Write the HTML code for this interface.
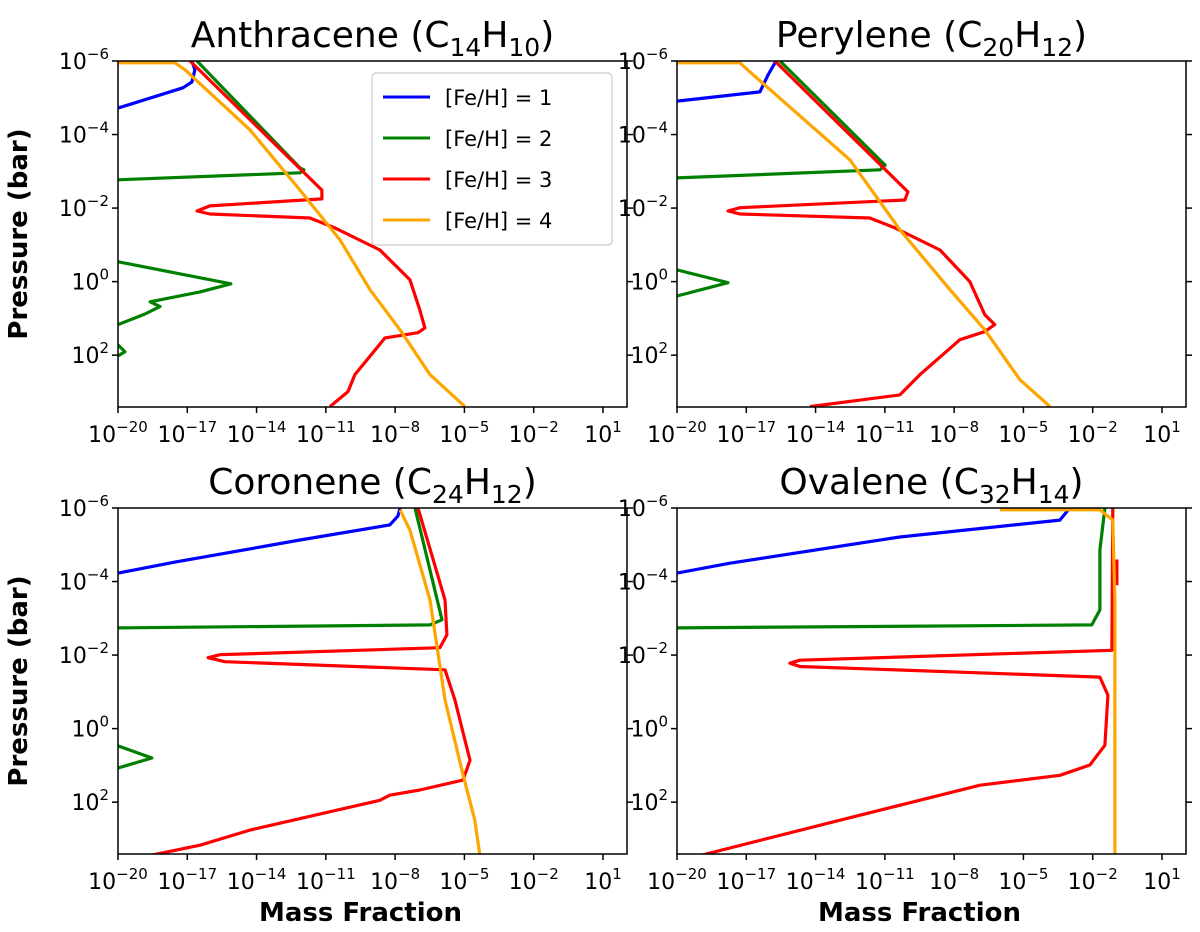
<!DOCTYPE html>
<html><head><meta charset="utf-8"><style>
html,body{margin:0;padding:0;background:#fff;}
svg{display:block;font-family:"DejaVu Sans","Liberation Sans",sans-serif;}
</style></head><body>
<svg id="fig" width="1200" height="932" viewBox="0 0 1200 932" xmlns="http://www.w3.org/2000/svg"></svg>
<script>
// Each series: [log10(mass fraction), log10(pressure)] points
const titles = [["Anthracene (C","14","H","10",")"],["Perylene (C","20","H","12",")"],["Coronene (C","24","H","12",")"],["Ovalene (C","32","H","14",")"]];
const seriesLabels = ["[Fe/H] = 1","[Fe/H] = 2","[Fe/H] = 3","[Fe/H] = 4"];
const seriesColors = ["#0000ff","#008000","#ff0000","#ffa500"];
const xTicks = [-20,-17,-14,-11,-8,-5,-2,1];
const yTicks = [-6,-4,-2,0,2];

const anthBlue = [[-20,-4.72],[-17.19,-5.27],[-16.8,-5.43],[-16.67,-5.76],[-16.8,-6]];
const anthGreen = [[-16.58,-6],[-12.12,-3.09],[-11.95,-3.04],[-12.12,-2.96],[-20,-2.77]];
const anthGreen2 = [[-20,-0.54],[-15.11,0.06],[-16.45,0.28],[-18.61,0.55],[-18.18,0.68],[-18.83,0.88],[-20,1.17]];
const anthGreen3 = [[-20,1.72],[-19.7,1.91],[-20,2.02]];
const anthRed = [[-16.88,-6],[-11.17,-2.49],[-11.17,-2.25],[-16.02,-2.06],[-16.58,-1.92],[-16.02,-1.84],[-11.69,-1.73],[-10.61,-1.46],[-8.66,-0.86],[-7.36,-0.05],[-6.93,0.77],[-6.71,1.26],[-7.01,1.39],[-8.44,1.53],[-9.74,2.53],[-10.04,2.99],[-10.82,3.4]];
const anthOrange = [[-20,-5.95],[-17.53,-5.95],[-17.1,-5.76],[-14.29,-4.13],[-12.12,-2.49],[-10.39,-1.14],[-9.09,0.22],[-7.79,1.31],[-6.49,2.53],[-4.98,3.4]];

const peryBlue = [[-20,-4.91],[-16.41,-5.16],[-16.06,-5.62],[-15.71,-6]];
const peryGreen = [[-15.54,-6],[-10.99,-3.17],[-11.21,-3.04],[-20,-2.82]];
const peryGreen2 = [[-20,-0.32],[-17.79,0.03],[-20,0.39]];
const peryRed = [[-15.76,-6],[-10,-2.44],[-10.13,-2.22],[-17.27,-2.01],[-17.79,-1.92],[-17.27,-1.84],[-11.65,-1.73],[-10.56,-1.46],[-8.61,-0.86],[-7.32,0],[-6.67,0.9],[-6.24,1.17],[-6.67,1.36],[-7.75,1.58],[-9.48,2.53],[-10.35,3.08],[-14.24,3.4]];
const peryOrange = [[-20,-5.95],[-17.27,-5.95],[-16.84,-5.7],[-12.51,-3.31],[-10.35,-1.41],[-8.18,0.22],[-6.67,1.31],[-5.15,2.67],[-3.85,3.4]];

const coroBlue = [[-20,-4.23],[-17.53,-4.53],[-12.12,-5.13],[-8.23,-5.54],[-7.88,-5.78],[-7.79,-6]];
const coroGreen = [[-7.14,-6],[-5.97,-2.96],[-6.49,-2.82],[-20,-2.74]];
const coroGreen2 = [[-20,0.47],[-18.53,0.8],[-20,1.07]];
const coroRed = [[-7.01,-6],[-5.84,-3.5],[-5.76,-2.55],[-6.06,-2.2],[-15.58,-2.01],[-16.1,-1.93],[-15.37,-1.82],[-5.84,-1.6],[-5.41,-0.78],[-4.98,0.31],[-4.76,0.86],[-5.06,1.4],[-6.93,1.67],[-8.23,1.81],[-8.66,1.95],[-14.29,2.76],[-16.45,3.17],[-18.61,3.45]];
const coroOrange = [[-7.79,-5.95],[-7.36,-5.4],[-6.49,-3.5],[-5.84,-0.78],[-5.11,1.13],[-4.55,2.49],[-4.33,3.45]];

const ovalBlue = [[-20,-4.23],[-17.71,-4.5],[-10.35,-5.21],[-3.42,-5.67],[-2.99,-6]];
const ovalGreen = [[-1.47,-6],[-1.69,-4.86],[-1.69,-3.23],[-2.04,-2.82],[-20,-2.74]];
const ovalRed = [[-1.13,-6],[-1.17,-2.13],[-14.68,-1.86],[-15.11,-1.78],[-14.68,-1.69],[-1.69,-1.4],[-1.34,-0.91],[-1.47,0.45],[-2.12,0.99],[-3.42,1.27],[-6.88,1.54],[-12.94,2.49],[-19,3.45],[-20,3.58]];
const ovalRed2 = [[-0.95,-4.6],[-0.95,-3.9]];
const ovalOrange = [[-6.02,-5.95],[-1.69,-5.95],[-1.13,-5.67],[-1.04,-3.5],[-1.04,3.45]];

const panelSeries = [
  [[0,anthBlue],[1,anthGreen],[1,anthGreen2],[1,anthGreen3],[2,anthRed],[3,anthOrange]],
  [[0,peryBlue],[1,peryGreen],[1,peryGreen2],[2,peryRed],[3,peryOrange]],
  [[0,coroBlue],[1,coroGreen],[1,coroGreen2],[2,coroRed],[3,coroOrange]],
  [[0,ovalBlue],[1,ovalGreen],[2,ovalRed],[2,ovalRed2],[3,ovalOrange]]
];

const NS="http://www.w3.org/2000/svg";
const svg=document.getElementById('fig');
function mk(tag,attrs,parent){const e=document.createElementNS(NS,tag);for(const k in attrs)e.setAttribute(k,attrs[k]);(parent||svg).appendChild(e);return e;}
const panels=[{x:118,y:61},{x:677,y:61},{x:118,y:508},{x:677,y:508}];
const PW=509,PH=346,XMIN=-20,XMAX=2.04,YMIN=-6,YMAX=3.41;
const defs=mk('defs',{});
panels.forEach((p,i)=>{
  const cp=mk('clipPath',{id:'c'+i},defs);
  mk('rect',{x:p.x,y:p.y,width:PW,height:PH},cp);
  const sx=v=>p.x+(v-XMIN)/(XMAX-XMIN)*PW;
  const sy=v=>p.y+(v-YMIN)/(YMAX-YMIN)*PH;
  const g=mk('g',{});
  
  
  const lg=mk('g',{'clip-path':'url(#c'+i+')'},g);
  panelSeries[i].forEach(([ci,pts])=>{
    const pl=mk('polyline',{points:pts.map(q=>sx(q[0]).toFixed(1)+','+sy(q[1]).toFixed(1)).join(' '),fill:'none',stroke:seriesColors[ci],'stroke-width':3.2,'stroke-linejoin':'round'},lg);
    
    
  });
  mk('rect',{x:p.x,y:p.y,width:PW,height:PH,fill:'none',stroke:'#000','stroke-width':1.5},g);
  xTicks.forEach(t=>{
    const x=sx(t);
    mk('line',{x1:x,y1:p.y+PH,x2:x,y2:p.y+PH+6,stroke:'#000','stroke-width':1.5},g);
    const tx=mk('text',{x:x,y:p.y+PH+35,'text-anchor':'middle','font-size':22},g);
    
    
    tx.textContent='10';
    const s=mk('tspan',{dy:-10,'font-size':15},tx);s.textContent=(t<0?'\u2212'+(-t):String(t));
  });
  yTicks.forEach(t=>{
    const y=sy(t);
    mk('line',{x1:p.x-6,y1:y,x2:p.x,y2:y,stroke:'#000','stroke-width':1.5},g);
    mk('line',{x1:p.x+PW,y1:y,x2:p.x+PW+6,y2:y,stroke:'#000','stroke-width':1.5},g);
    const tx=mk('text',{x:p.x-9,y:y+8,'text-anchor':'end','font-size':22},g);
    
    
    tx.textContent='10';
    const s=mk('tspan',{dy:-10,'font-size':15},tx);s.textContent=(t<0?'\u2212'+(-t):String(t));
  });
  const tt=titles[i];
  const ti=mk('text',{x:p.x+PW/2,y:p.y-14,'text-anchor':'middle','font-size':36},g);
  
  
  const a=mk('tspan',{},ti);a.textContent=tt[0];
  const b=mk('tspan',{dy:9,'font-size':25},ti);b.textContent=tt[1];
  const c=mk('tspan',{dy:-9},ti);c.textContent=tt[2];
  const d=mk('tspan',{dy:9,'font-size':25},ti);d.textContent=tt[3];
  const e=mk('tspan',{dy:-9},ti);e.textContent=tt[4];
  if(i%2===0){
    const yl=mk('text',{x:0,y:0,'text-anchor':'middle','font-size':26,'font-weight':'bold',transform:'translate(27,'+(p.y+PH/2)+') rotate(-90)'},g);
    
    
    yl.textContent='Pressure (bar)';
  }
  if(i>=2){
    const xl=mk('text',{x:p.x+PW/2-12,y:p.y+PH+67,'text-anchor':'middle','font-size':26,'font-weight':'bold'},g);
    
    
    xl.textContent='Mass Fraction';
  }
});
const leg=mk('g',{});


mk('rect',{x:372,y:73,width:240,height:172,rx:4,fill:'#fff',stroke:'#ccc','stroke-width':1.2},leg);
seriesLabels.forEach((s,k)=>{
  const y=97+k*41;
  const g=mk('g',{},leg);
  
  
  mk('line',{x1:383,y1:y,x2:430,y2:y,stroke:seriesColors[k],'stroke-width':3},g);
  const t=mk('text',{x:445,y:y+8,'font-size':21},g);t.textContent=s;
});
</script>
</body></html>
